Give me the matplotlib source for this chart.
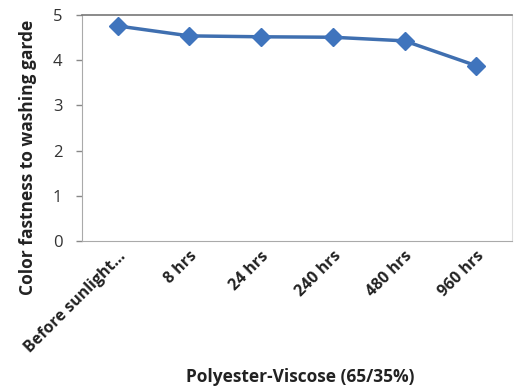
import matplotlib.pyplot as plt

# washing fastness grade after each sunlight exposure period
periods = ["Before sunlight...", "8 hrs", "24 hrs", "240 hrs", "480 hrs", "960 hrs"]
grades = [4.76, 4.54, 4.52, 4.51, 4.43, 3.88]

plt.rcParams['font.family'] = ['Open Sans', 'DejaVu Sans']

fig = plt.figure(figsize=(5.21, 3.87), dpi=100)
ax = fig.add_axes([0.157, 0.377, 0.826, 0.584])

x = list(range(len(periods)))
ax.plot(x, grades, color='#3f6fb0', linewidth=2.5, marker='D', markersize=9,
        markerfacecolor='#3f74bd', markeredgecolor='#3f74bd')

ax.set_xlim(-0.5, len(periods) - 0.5)
ax.set_ylim(0, 5)
ax.set_yticks([0, 1, 2, 3, 4, 5])
ax.set_xticks(x)
ax.set_xticklabels(periods, rotation=45, ha='right', rotation_mode='anchor',
                   fontsize=11.5, fontweight='bold', color='#222222')
ax.tick_params(axis='x', length=0, pad=5)
ax.tick_params(axis='y', colors='#888888', labelcolor='#333333', labelsize=12,
               length=4, width=1, pad=10)

ax.spines['top'].set_color('#777777')
ax.spines['top'].set_linewidth(1.2)
ax.spines['right'].set_color('#dddddd')
ax.spines['left'].set_color('#aaaaaa')
ax.spines['bottom'].set_color('#aaaaaa')

ax.set_ylabel("Color fastness to washing garde", fontsize=12.5, fontweight='bold',
              color='#222222')
ax.yaxis.set_label_coords(-0.105, 0.37)
ax.set_xlabel("Polyester-Viscose (65/35%)", fontsize=12.5, fontweight='bold',
              color='#222222')
ax.xaxis.set_label_coords(0.507, -0.56)

fig.savefig('out.png', dpi=100)
